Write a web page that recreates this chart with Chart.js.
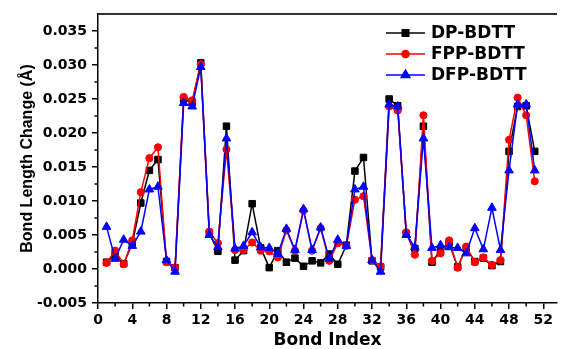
<!DOCTYPE html>
<html>
<head>
<meta charset="utf-8">
<script src="https://cdn.jsdelivr.net/npm/chart.js@4.4.1/dist/chart.umd.min.js"></script>
<style>
  html, body { margin: 0; padding: 0; background: #fff; }
  #wrap { width: 563px; height: 349px; }
</style>
</head>
<body>
<div id="wrap"><canvas id="bondChart" width="563" height="349"></canvas></div>
<script>
// bond index (x)
const bondIndex = [1, 2, 3, 4, 5, 6, 7, 8, 9, 10, 11, 12, 13, 14, 15, 16, 17, 18, 19, 20,
  21, 22, 23, 24, 25, 26, 27, 28, 29, 30, 31, 32, 33, 34, 35, 36, 37, 38, 39, 40,
  41, 42, 43, 44, 45, 46, 47, 48, 49, 50, 51];

// bond length change (Å)
const dpBDTT = [0.0010, 0.0021, 0.0008, 0.0037, 0.0097, 0.0145, 0.0161, 0.0011, 0.0002, 0.0250,
  0.0245, 0.0303, 0.0053, 0.0026, 0.0210, 0.0013, 0.0027, 0.0096, 0.0031, 0.0002,
  0.0027, 0.0010, 0.0016, 0.0004, 0.0012, 0.0009, 0.0022, 0.0007, 0.0035, 0.0144,
  0.0164, 0.0012, 0.0003, 0.0250, 0.0240, 0.0052, 0.0030, 0.0210, 0.0010, 0.0028,
  0.0038, 0.0003, 0.0031, 0.0011, 0.0016, 0.0005, 0.0011, 0.0173, 0.0239, 0.0240, 0.0173];

const fppBDTT = [0.0009, 0.0027, 0.0007, 0.0042, 0.0113, 0.0163, 0.0179, 0.0010, 0.0002, 0.0253,
  0.0248, 0.0301, 0.0055, 0.0038, 0.0176, 0.0028, 0.0028, 0.0039, 0.0027, 0.0026,
  0.0017, 0.0057, 0.0027, 0.0086, 0.0027, 0.0060, 0.0012, 0.0038, 0.0034, 0.0102,
  0.0107, 0.0013, 0.0004, 0.0239, 0.0233, 0.0054, 0.0021, 0.0226, 0.0012, 0.0023,
  0.0042, 0.0002, 0.0033, 0.0010, 0.0017, 0.0006, 0.0013, 0.0190, 0.0252, 0.0226, 0.0129];

const dfpBDTT = [0.0062, 0.0015, 0.0043, 0.0034, 0.0055, 0.0117, 0.0121, 0.0013, -0.0004, 0.0244,
  0.0239, 0.0297, 0.0050, 0.0032, 0.0192, 0.0030, 0.0034, 0.0054, 0.0032, 0.0031,
  0.0022, 0.0059, 0.0028, 0.0088, 0.0028, 0.0061, 0.0015, 0.0043, 0.0034, 0.0117,
  0.0121, 0.0013, -0.0004, 0.0242, 0.0239, 0.0050, 0.0032, 0.0192, 0.0031, 0.0035,
  0.0032, 0.0031, 0.0023, 0.0060, 0.0029, 0.0090, 0.0028, 0.0145, 0.0242, 0.0242, 0.0145];

// tick labels
const xTicks = [0, 4, 8, 12, 16, 20, 24, 28, 32, 36, 40, 44, 48, 52];
const yTicks = [-0.005, 0.000, 0.005, 0.010, 0.015, 0.020, 0.025, 0.030, 0.035];

const seriesNames = ['DP-BDTT', 'FPP-BDTT', 'DFP-BDTT'];

function toPoints(values) {
  return bondIndex.map((x, i) => ({ x: x, y: values[i] }));
}

const tickFont = { family: 'DejaVu Sans', weight: 'bold', size: 14 };

// minor ticks + top frame line
const frameAndMinor = {
  id: 'frameAndMinor',
  afterDraw(chart) {
    const ctx = chart.ctx;
    const area = chart.chartArea;
    const xs = chart.scales.x, ys = chart.scales.y;
    ctx.save();
    ctx.strokeStyle = '#000';
    ctx.lineWidth = 1.5;
    ctx.beginPath();
    for (let v = 2; v < xs.max; v += 4) {
      const px = xs.getPixelForValue(v);
      ctx.moveTo(px, area.bottom);
      ctx.lineTo(px, area.bottom + 3.5);
    }
    for (let v = -0.0025; v < ys.max; v += 0.005) {
      const py = ys.getPixelForValue(v);
      ctx.moveTo(area.left, py);
      ctx.lineTo(area.left - 3.5, py);
    }
    ctx.stroke();
    ctx.strokeStyle = '#333';
    ctx.lineWidth = 2;
    ctx.beginPath();
    ctx.moveTo(area.left, area.top);
    ctx.lineTo(area.right, area.top);
    ctx.stroke();
    ctx.restore();
  }
};

// legend with line + marker sample, inside the plot (top right)
const insideLegend = {
  id: 'insideLegend',
  afterDraw(chart) {
    const ctx = chart.ctx;
    const x0 = 386, x1 = 425, rowY = [33, 54, 75];
    ctx.save();
    chart.data.datasets.forEach((ds, i) => {
      const y = rowY[i];
      ctx.strokeStyle = ds.borderColor;
      ctx.lineWidth = 1.5;
      ctx.beginPath();
      ctx.moveTo(x0, y);
      ctx.lineTo(x1, y);
      ctx.stroke();
      ctx.fillStyle = ds.pointBackgroundColor;
      ctx.strokeStyle = ds.pointBorderColor;
      Chart.helpers.drawPoint(ctx, {
        pointStyle: ds.pointStyle, radius: ds.pointRadius, rotation: 0, borderWidth: 1
      }, (x0 + x1) / 2, y);
      ctx.fillStyle = '#000';
      ctx.font = 'bold 17px "DejaVu Sans"';
      ctx.textAlign = 'left';
      ctx.textBaseline = 'middle';
      ctx.fillText(ds.label, 431, y + 1);
    });
    ctx.restore();
  }
};

new Chart(document.getElementById('bondChart'), {
  type: 'line',
  data: {
    datasets: [
      {
        label: seriesNames[0], data: toPoints(dpBDTT), order: 2,
        borderColor: '#000000', backgroundColor: '#000000',
        pointBackgroundColor: '#000000', pointBorderColor: '#000000',
        pointStyle: 'rect', pointRadius: 4.6, borderWidth: 1.5, pointBorderWidth: 1
      },
      {
        label: seriesNames[1], data: toPoints(fppBDTT), order: 1,
        borderColor: '#ff0000', backgroundColor: '#ff0000',
        pointBackgroundColor: '#ff0000', pointBorderColor: '#ff0000',
        pointStyle: 'circle', pointRadius: 3.6, borderWidth: 1.5, pointBorderWidth: 1
      },
      {
        label: seriesNames[2], data: toPoints(dfpBDTT), order: 0,
        borderColor: '#0000ff', backgroundColor: '#0000ff',
        pointBackgroundColor: '#0000ff', pointBorderColor: '#0000ff',
        pointStyle: 'triangle', pointRadius: 5, borderWidth: 1.5, pointBorderWidth: 1
      }
    ]
  },
  options: {
    responsive: false,
    animation: false,
    devicePixelRatio: 1,
    layout: { padding: { top: 14, right: 0, bottom: 0, left: 0 } },
    elements: { line: { tension: 0 } },
    scales: {
      x: {
        type: 'linear',
        min: 0,
        max: 53.6,
        afterBuildTicks(scale) { scale.ticks = xTicks.map(v => ({ value: v })); },
        afterFit(scale) { scale.height = 46; },
        border: { display: true, color: '#000', width: 1.5 },
        grid: { drawOnChartArea: false, drawTicks: true, tickLength: 6, color: '#000', lineWidth: 1.5 },
        ticks: { color: '#000', font: tickFont, padding: 3, maxRotation: 0, autoSkip: false },
        title: {
          display: true, text: 'Bond Index', color: '#000',
          font: { family: 'DejaVu Sans', weight: 'bold', size: 17, lineHeight: 1 },
          padding: { top: 0, bottom: 0 }
        }
      },
      y: {
        min: -0.005,
        max: 0.0375,
        afterBuildTicks(scale) { scale.ticks = yTicks.map(v => ({ value: v })); },
        afterFit(scale) { scale.width = 98; },
        border: { display: true, color: '#000', width: 1.5 },
        grid: { drawOnChartArea: false, drawTicks: true, tickLength: 6, color: '#000', lineWidth: 1.5 },
        ticks: {
          color: '#000', font: tickFont, padding: 5,
          callback: v => v.toFixed(3)
        },
        title: {
          display: true, text: 'Bond Length Change (Å)', color: '#000',
          font: { family: 'Liberation Sans', weight: 'bold', size: 16 },
          padding: { top: 18, bottom: 0 }
        }
      }
    },
    plugins: {
      legend: { display: false },
      tooltip: { enabled: false }
    }
  },
  plugins: [frameAndMinor, insideLegend]
});
</script>
</body>
</html>
